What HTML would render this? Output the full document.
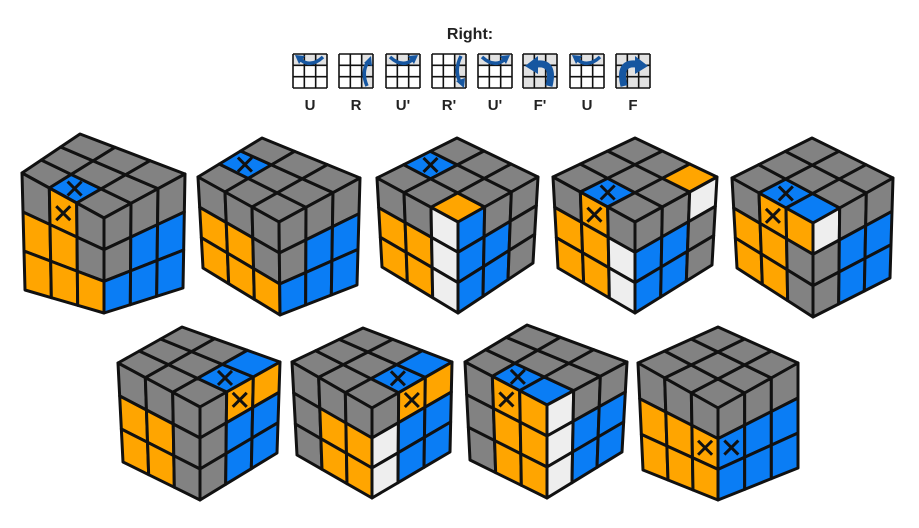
<!DOCTYPE html>
<html><head><meta charset="utf-8"><style>
html,body{margin:0;padding:0;background:#fff;width:919px;height:528px;overflow:hidden}
svg{display:block}
text{font-family:"Liberation Sans",Arial,sans-serif;font-weight:bold;fill:#222}
</style></head><body>
<svg id="s" width="919" height="528" viewBox="0 0 919 528" xmlns="http://www.w3.org/2000/svg">
<text x="470" y="39" font-size="16" text-anchor="middle">Right:</text>
<g font-size="15" text-anchor="middle">
<text x="310" y="110">U</text><text x="356" y="110">R</text><text x="403" y="110">U'</text><text x="449" y="110">R'</text>
<text x="495" y="110">U'</text><text x="540" y="110">F'</text><text x="587" y="110">U</text><text x="633" y="110">F</text>
</g>
<g id="icons"></g>
<g id="cubes"></g>
</svg>
<script>
var NS="http://www.w3.org/2000/svg";
function el(p,t,a){var e=document.createElementNS(NS,t);for(var k in a)e.setAttribute(k,a[k]);p.appendChild(e);return e;}
var C={G:"#828282",O:"#FFA500",B:"#0A7DF5",W:"#EEEEEE"};
function bil(P,u,v){var a=P[0],b=P[1],c=P[2],d=P[3];
 return [(1-u)*(1-v)*a[0]+u*(1-v)*b[0]+(1-u)*v*c[0]+u*v*d[0],(1-u)*(1-v)*a[1]+u*(1-v)*b[1]+(1-u)*v*c[1]+u*v*d[1]];}
var g=document.getElementById("cubes");
function face(P,grid){
 for(var r=0;r<3;r++)for(var c=0;c<3;c++){
  var code=grid[r][c],col=C[code[0]];
  var q=[bil(P,c/3,r/3),bil(P,(c+1)/3,r/3),bil(P,(c+1)/3,(r+1)/3),bil(P,c/3,(r+1)/3)];
  el(g,"polygon",{points:q.map(function(p){return p.join(",")}).join(" "),fill:col,stroke:"#111","stroke-width":"3","stroke-linejoin":"round"});
  if(code.length>1){var m=bil(P,(c+.5)/3,(r+.5)/3),d=7;
   el(g,"path",{d:"M"+(m[0]-d)+","+(m[1]-d)+"L"+(m[0]+d)+","+(m[1]+d)+"M"+(m[0]+d)+","+(m[1]-d)+"L"+(m[0]-d)+","+(m[1]+d),stroke:"#111","stroke-width":"3"});}
 }}
function cube(k,top,left,right){
 var T=k[0],LT=k[1],Cc=k[2],RT=k[3],LB=k[4],CB=k[5],RB=k[6];
 // top: rows t (0 = front-left edge), cols s (0=LT .. 2=C)
 var tg=[[],[],[]];
 face([LT,Cc,T,RT],top);
 face([LT,Cc,LB,CB],left);
 face([Cc,RT,CB,RB],right);
}
var Gr=["G","G","G"];
var cubesData=[
 [[[80,134],[22,173],[104,218],[185,174],[25,290],[104,313],[183,288]],
  [["G","BX","G"],Gr,Gr],[["G","OX","G"],["O","O","G"],["O","O","O"]],[Gr,["G","B","B"],["B","B","B"]]],
 [[[262,138],[198,177],[279,222],[360,178],[203,268],[280,315],[357,285]],
  [Gr,["BX","G","G"],Gr],[Gr,["O","O","G"],["O","O","O"]],[Gr,["G","B","B"],["B","B","B"]]],
 [[[457,138],[377,178],[458,222],[538,177],[382,267],[458,313],[533,263]],
  [["G","G","O"],["BX","G","G"],Gr],[["G","G","W"],["O","O","W"],["O","O","W"]],[["B","G","G"],["B","B","G"],["B","B","G"]]],
 [[[635,138],[553,177],[635,222],[717,177],[558,268],[635,313],[712,265]],
  [["G","BX","G"],Gr,["G","G","O"]],[["G","OX","G"],["O","O","W"],["O","O","W"]],[["G","G","W"],["B","B","G"],["B","B","G"]]],
 [[[812,138],[732,178],[813,223],[893,178],[737,268],[813,317],[890,278]],
  [["G","BX","B"],Gr,Gr],[["G","OX","O"],["O","O","G"],["O","O","G"]],[["W","G","G"],["G","B","B"],["G","B","B"]]],
 [[[182,327],[118,363],[200,407],[280,362],[123,462],[200,500],[277,453]],
  [Gr,["G","G","BX"],["G","G","B"]],[Gr,["O","O","G"],["O","O","G"]],[["G","OX","O"],["G","B","B"],["G","B","B"]]],
 [[[363,328],[292,362],[372,408],[452,362],[297,455],[372,498],[450,452]],
  [Gr,["G","G","BX"],["G","G","B"]],[Gr,["G","O","O"],["G","O","O"]],[["G","OX","O"],["W","B","B"],["W","B","B"]]],
 [[[527,325],[465,362],[547,405],[627,362],[470,460],[547,498],[622,452]],
  [["G","BX","B"],Gr,Gr],[["G","OX","O"],["G","O","O"],["G","O","O"]],[["W","G","G"],["W","B","B"],["W","B","B"]]],
 [[[718,327],[638,363],[718,408],[798,363],[643,470],[718,500],[798,468]],
  [Gr,Gr,Gr],[Gr,["O","O","OX"],["O","O","O"]],[Gr,["BX","B","B"],["B","B","B"]]]
];
cubesData.forEach(function(d){cube(d[0],d[1],d[2],d[3]);});

// icons
var ig=document.getElementById("icons");
var xs=[293,339,386,432,478,523,570,616],y0=54,w=34;
var types=["U","R","U'","R'","U'","F'","U","F"];
var blue="#1656A0";
xs.forEach(function(x,i){
 var t=types[i],c=w/3;
 if(t[0]=="U")el(ig,"rect",{x:x,y:y0,width:w,height:c,fill:"#e2e2e2"});
 if(t[0]=="R")el(ig,"rect",{x:x+2*c,y:y0,width:c,height:w,fill:"#e2e2e2"});
 if(t[0]=="F")el(ig,"rect",{x:x,y:y0,width:w,height:w,fill:"#e2e2e2"});
 for(var k=0;k<=3;k++){
  el(ig,"line",{x1:x+k*c,y1:y0,x2:x+k*c,y2:y0+w,stroke:"#111","stroke-width":"1.6"});
  el(ig,"line",{x1:x,y1:y0+k*c,x2:x+w,y2:y0+k*c,stroke:"#111","stroke-width":"1.6"});
 }
 var p;
 if(t=="U"){el(ig,"path",{d:"M"+(x+30)+","+(y0+3)+"Q"+(x+18)+","+(y0+14)+" "+(x+8)+","+(y0+6),fill:"none",stroke:blue,"stroke-width":"3.5"});
  el(ig,"polygon",{points:(x+2)+","+(y0+1)+" "+(x+12)+","+(y0+2)+" "+(x+6)+","+(y0+10),fill:blue});}
 if(t=="U'"){el(ig,"path",{d:"M"+(x+4)+","+(y0+3)+"Q"+(x+16)+","+(y0+14)+" "+(x+26)+","+(y0+6),fill:"none",stroke:blue,"stroke-width":"3.5"});
  el(ig,"polygon",{points:(x+32)+","+(y0+1)+" "+(x+22)+","+(y0+2)+" "+(x+28)+","+(y0+10),fill:blue});}
 if(t=="R"){el(ig,"path",{d:"M"+(x+28)+","+(y0+32)+"Q"+(x+22)+","+(y0+18)+" "+(x+29)+","+(y0+8),fill:"none",stroke:blue,"stroke-width":"3.5"});
  el(ig,"polygon",{points:(x+32)+","+(y0+2)+" "+(x+25)+","+(y0+9)+" "+(x+33)+","+(y0+12),fill:blue});}
 if(t=="R'"){el(ig,"path",{d:"M"+(x+29)+","+(y0+2)+"Q"+(x+22)+","+(y0+16)+" "+(x+28)+","+(y0+28),fill:"none",stroke:blue,"stroke-width":"3.5"});
  el(ig,"polygon",{points:(x+32)+","+(y0+34)+" "+(x+24)+","+(y0+27)+" "+(x+33)+","+(y0+24),fill:blue});}
 if(t=="F'"){el(ig,"path",{d:"M"+(x+26)+","+(y0+32)+"Q"+(x+32)+","+(y0+8)+" "+(x+14)+","+(y0+10),fill:"none",stroke:blue,"stroke-width":"7"});
  el(ig,"polygon",{points:(x+2)+","+(y0+12)+" "+(x+15)+","+(y0+2)+" "+(x+15)+","+(y0+20),fill:blue});}
 if(t=="F"){el(ig,"path",{d:"M"+(x+8)+","+(y0+32)+"Q"+(x+2)+","+(y0+8)+" "+(x+20)+","+(y0+10),fill:"none",stroke:blue,"stroke-width":"7"});
  el(ig,"polygon",{points:(x+32)+","+(y0+12)+" "+(x+19)+","+(y0+2)+" "+(x+19)+","+(y0+20),fill:blue});}
});
</script>
</body></html>
